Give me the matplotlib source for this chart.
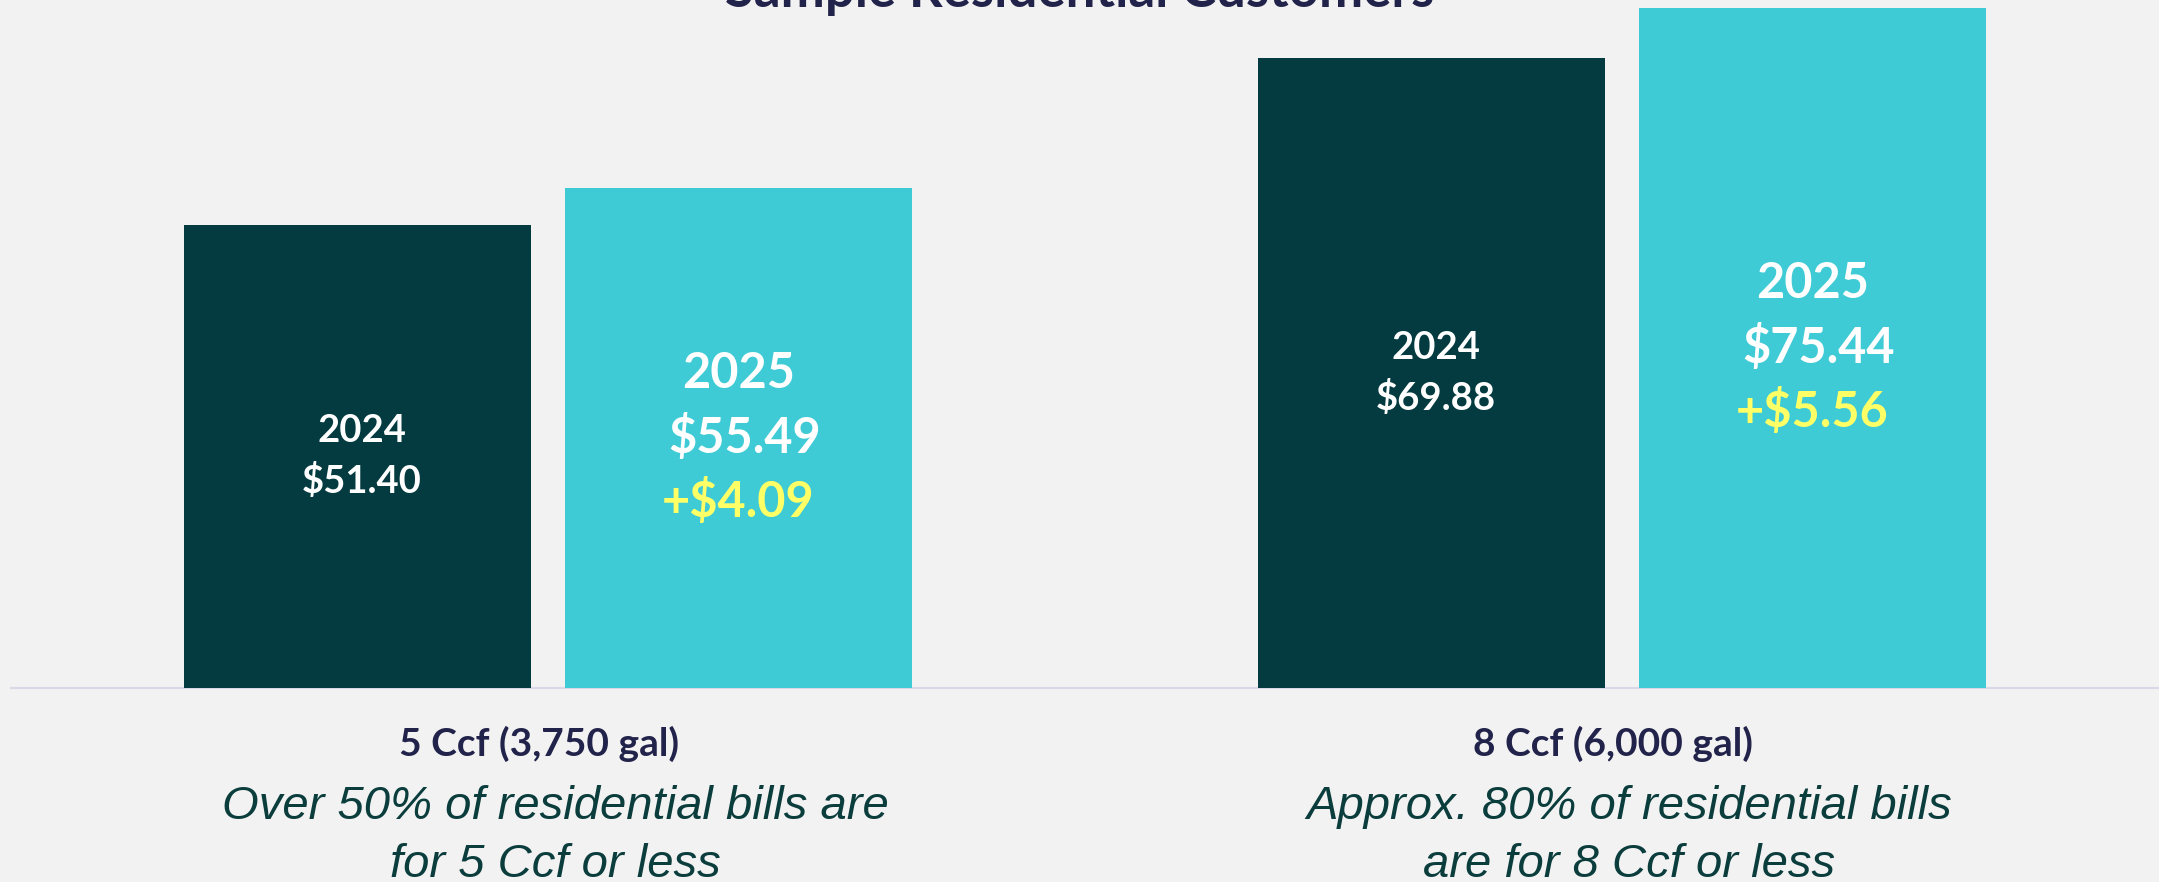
import matplotlib
matplotlib.use("Agg")
import matplotlib.pyplot as plt
from matplotlib import font_manager

# Chart data
categories = ["5 Ccf (3,750 gal)", "8 Ccf (6,000 gal)"]
notes = [["Over 50% of residential bills are", "for 5 Ccf or less"],
         ["Approx. 80% of residential bills", "are for 8 Ccf or less"]]
years = ["2024", "2025"]
bills_2024 = [51.40, 69.88]
bills_2025 = [55.49, 75.44]
increase = [4.09, 5.56]
title = "Sample Residential Customers"

BG = "#F2F2F2"
DARK = "#033B40"
LIGHT = "#3FCBD6"
YELLOW = "#FFFF66"
NAVY = "#22234A"
TEAL_TEXT = "#0B3D3D"

names = {f.name for f in font_manager.fontManager.ttflist}
BOLD_FONT = ["Lato", "DejaVu Sans"]
NOTE_FONT = (["Liberation Sans Narrow", "DejaVu Sans"]
             if "Liberation Sans Narrow" in names else ["Liberation Sans", "DejaVu Sans"])

W, H = 2159, 882
fig = plt.figure(figsize=(W / 100, H / 100), dpi=100, facecolor=BG)
ax = fig.add_axes([11 / W, (H - 688) / H, (W - 11) / W, 688 / H])
ax.set_facecolor(BG)

x = [0, 1]
offset = 0.1773
width = 0.323
ax.bar([v - offset for v in x], bills_2024, width, color=DARK, zorder=3)
ax.bar([v + offset for v in x], bills_2025, width, color=LIGHT, zorder=3)
ax.set_xlim(-0.5, 1.5)
ax.set_ylim(0, 76.3)

for side in ["top", "right", "left"]:
    ax.spines[side].set_visible(False)
ax.spines["bottom"].set_color("#D9D9EA")
ax.spines["bottom"].set_linewidth(1.5)
ax.set_xticks([])
ax.set_yticks([])

for i in x:
    # 2024 bar labels
    xd = i - offset
    yd = bills_2024[i] / 2
    for text, dy in [(years[0], 25), (f"${bills_2024[i]:.2f}", -25)]:
        ax.annotate(text, (xd, yd), xytext=(4, dy), textcoords="offset pixels",
                    ha="center", va="center", color="white", fontsize=27.5,
                    fontweight="bold", family=BOLD_FONT, parse_math=False)
    # 2025 bar labels
    xl = i + offset
    yl = bills_2025[i] / 2
    for text, dy, col, dx in [(years[1], 64, "white", 0),
                              (f"${bills_2025[i]:.2f}", 0, "white", 6),
                              (f"+${increase[i]:.2f}", -64, YELLOW, 0)]:
        ax.annotate(text, (xl, yl), xytext=(dx, dy), textcoords="offset pixels",
                    ha="center", va="center", color=col, fontsize=35,
                    fontweight="bold", family=BOLD_FONT, parse_math=False)

    # category label and note below the axis
    tr = ax.get_xaxis_transform()
    ax.text(i - 0.008, -(744 - 688) / 688, categories[i], transform=tr,
            ha="center", va="center", color=NAVY, fontsize=28,
            fontweight="bold", family=BOLD_FONT)
    for k, line in enumerate(notes[i]):
        ax.text(i + 0.007, -(807 + 58 * k - 688) / 688, line, transform=tr,
                ha="center", va="center", color=TEAL_TEXT, fontsize=34,
                style="italic", family=NOTE_FONT)

fig.text(0.5, 1 - 7 / H, title, ha="center", va="baseline", color=NAVY,
         fontsize=38, fontweight="bold", family=BOLD_FONT)

fig.savefig("out.png", dpi=100, facecolor=BG)
